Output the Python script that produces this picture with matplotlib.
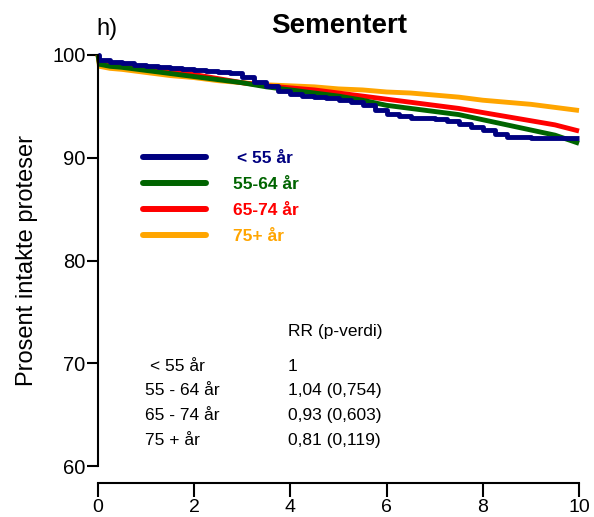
import numpy as np
import matplotlib
matplotlib.use("Agg")
import matplotlib.pyplot as plt

plt.rcParams['font.family'] = ['Liberation Sans', 'DejaVu Sans']

# survival curves (years, % intact)
t_lt55 = [0, 0.03, 0.25, 0.5, 0.75, 1.0, 1.25, 1.5, 1.75, 2.0, 2.25, 2.5, 2.75, 3.0, 3.25, 3.5,
          3.75, 4.0, 4.25, 4.5, 4.75, 5.0, 5.25, 5.5, 5.75, 6.0, 6.25, 6.5, 6.75, 7.0, 7.25,
          7.5, 7.75, 8.0, 8.25, 8.5, 9.0, 10]
s_lt55 = [100, 99.5, 99.3, 99.2, 99.0, 98.95, 98.8, 98.7, 98.6, 98.5, 98.4, 98.3, 98.2, 97.9,
          97.4, 97.0, 96.5, 96.2, 96.0, 95.9, 95.8, 95.6, 95.4, 95.1, 94.6, 94.3, 94.1, 93.9,
          93.9, 93.8, 93.6, 93.3, 93.0, 92.7, 92.3, 92.0, 91.9, 91.9]
t_55_64 = [0, 0.03, 0.25, 0.5, 1.0, 1.5, 2.0, 2.5, 3.0, 3.5, 4.0, 4.5, 5.0, 5.5, 6.0, 6.5,
           7.0, 7.5, 8.0, 8.5, 9.0, 9.5, 10]
s_55_64 = [100, 99.1, 98.9, 98.8, 98.5, 98.2, 97.9, 97.6, 97.3, 96.9, 96.6, 96.3, 96.0, 95.6,
           95.1, 94.8, 94.5, 94.2, 93.7, 93.2, 92.7, 92.2, 91.4]
t_65_74 = [0, 0.03, 0.25, 0.5, 1.0, 1.5, 2.0, 2.5, 3.0, 3.5, 4.0, 4.5, 5.0, 5.5, 6.0, 6.5,
           7.0, 7.5, 8.0, 8.5, 9.0, 9.5, 10]
s_65_74 = [100, 99.3, 99.1, 99.0, 98.7, 98.4, 98.1, 97.7, 97.3, 97.0, 96.8, 96.6, 96.3, 96.0,
           95.7, 95.4, 95.1, 94.8, 94.4, 94.0, 93.6, 93.2, 92.6]
t_75 = [0, 0.03, 0.25, 0.5, 1.0, 1.5, 2.0, 2.5, 3.0, 3.5, 4.0, 4.5, 5.0, 5.5, 6.0, 6.5,
        7.0, 7.5, 8.0, 8.5, 9.0, 9.5, 10]
s_75 = [100, 98.9, 98.7, 98.6, 98.3, 98.0, 97.8, 97.5, 97.3, 97.1, 97.0, 96.9, 96.7, 96.6,
        96.4, 96.3, 96.1, 95.9, 95.6, 95.4, 95.2, 94.9, 94.6]

labels = ['< 55 år', '55-64 år', '65-74 år', '75+ år']
colors = ['#000080', '#006400', '#ff0000', '#ffa500']

tab_groups = ['< 55 år', '55 - 64 år', '65 - 74 år', '75 + år']
tab_rr = ['1', '1,04 (0,754)', '0,93 (0,603)', '0,81 (0,119)']

fig = plt.figure(figsize=(5.94, 5.17), dpi=100)
ax = fig.add_axes([98/594, 1-466/517, 481/594, 411/517])

curves = [(t_lt55, s_lt55), (t_55_64, s_55_64), (t_65_74, s_65_74), (t_75, s_75)]
styles = ['steps-post', 'default', 'default', 'default']
# draw oldest first so blue ends up on top
for (t, s), c, ds in reversed(list(zip(curves, colors, styles))):
    ax.plot(t, s, color=c, lw=3.5, drawstyle=ds, clip_on=False, solid_capstyle='butt')

ax.set_xlim(0, 10)
ax.set_ylim(60, 100)
ax.set_xticks([0, 2, 4, 6, 8, 10])
ax.set_yticks([60, 70, 80, 90, 100])
ax.spines['top'].set_visible(False)
ax.spines['right'].set_visible(False)
ax.spines['bottom'].set_position(('outward', 12))
for sp in ['left', 'bottom']:
    ax.spines[sp].set_linewidth(1.5)
ax.tick_params(axis='y', length=8, width=1.5, labelsize=14.5, pad=1)
ax.tick_params(axis='x', length=10, width=1.5, labelsize=14, pad=1.5)
ax.set_ylabel('Prosent intakte proteser', fontsize=17, labelpad=10)

# legend drawn by hand
leg_y = [90.07, 87.5, 85.0, 82.5]
for lab, c, y in zip(labels, colors, leg_y):
    ax.plot([0.94, 2.25], [y, y], color=c, lw=4.3, solid_capstyle='round')
    xx = 2.89 if lab.startswith('<') else 2.81
    ax.text(xx, y - 0.15, lab, color=c, fontsize=12.5, fontweight='bold', va='center')

# RR table
ax.text(3.95, 73.1, 'RR (p-verdi)', fontsize=12.5, va='center')
for i, (g, r) in enumerate(zip(tab_groups, tab_rr)):
    y = 69.7 - i * 2.4
    ax.text(0.98 if i else 1.08, y, g, fontsize=12.5, va='center')
    ax.text(3.95, y, r, fontsize=12.5, va='center')

fig.text(339/594, 1-26/517, 'Sementert', fontsize=20, fontweight='bold', ha='center', va='center')
fig.text(96/594, 1-29/517, 'h)', fontsize=17, ha='left', va='center')

fig.savefig('out.png', dpi=100)
